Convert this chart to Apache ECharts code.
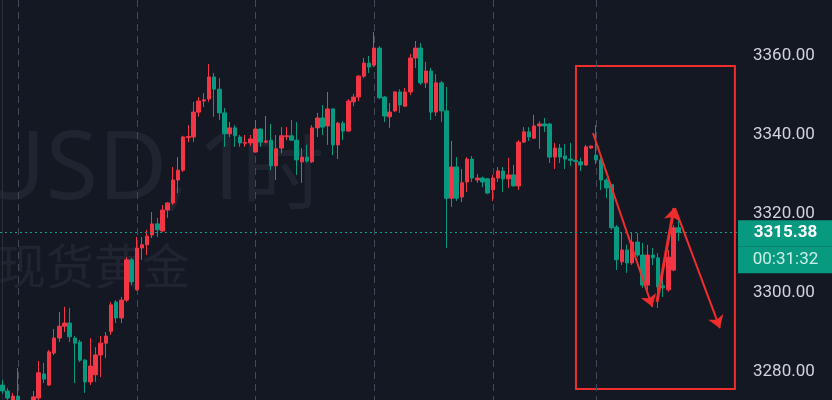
<!DOCTYPE html>
<html>
<head>
<meta charset="utf-8">
<script src="https://cdn.jsdelivr.net/npm/echarts@6.0.0/dist/echarts.min.js"></script>
<style>
html,body{margin:0;padding:0;background:#141823;overflow:hidden}
#chart{width:832px;height:400px}
</style>
</head>
<body>
<div id="chart"></div>
<script>
// ---- data (XAUUSD 1H candles) ----
const opens = [3276.7,3275.2,3271.5,3273.9,3271.0,3268.0,3271.0,3273.4,3279.5,3276.7,
3284.8,3288.6,3291.6,3292.4,3288.6,3287.6,3283.0,3277.5,3279.3,3284.3,
3287.3,3290.3,3297.7,3293.7,3298.2,3308.4,3300.8,3311.4,3312.2,3314.7,
3317.5,3315.7,3321.0,3322.8,3328.6,3331.1,3339.3,3339.5,3345.8,3348.6,
3349.1,3354.7,3351.6,3345.6,3340.3,3341.8,3339.5,3337.9,3338.0,3335.7,
3341.5,3338.2,3338.7,3332.2,3336.7,3339.6,3339.8,3338.7,3333.2,3334.4,
3333.2,3341.8,3344.3,3342.3,3346.6,3337.5,3343.0,3341.0,3348.4,3349.6,
3354.9,3358.2,3357.7,3362.0,3349.6,3344.6,3346.1,3350.9,3347.3,3350.9,
3359.5,3362.0,3353.2,3356.2,3345.8,3353.2,3346.1,3324.0,3331.9,3324.3,
3328.1,3333.9,3328.6,3329.1,3328.9,3326.1,3329.1,3330.9,3328.9,3329.9,
3327.1,3338.2,3340.8,3339.2,3342.3,3342.8,3342.8,3334.4,3336.7,3334.7,
3333.9,3333.6,3333.2,3332.4,3336.7,3334.9,3333.7,3328.6,3327.4,3316.7,
3307.9,3310.9,3307.6,3312.9,3309.6,3302.0,3309.6,3308.9,3301.8,3300.8,
3305.8,3316.5];
const closes = [3275.2,3273.4,3273.9,3271.0,3268.0,3271.0,3273.7,3279.8,3278.2,3285.1,
3288.6,3291.6,3292.4,3288.9,3287.3,3283.0,3277.5,3281.5,3284.3,3287.3,
3289.1,3297.0,3293.7,3298.2,3308.4,3302.8,3311.4,3312.2,3314.4,3317.5,
3316.0,3321.0,3322.8,3328.6,3331.1,3339.5,3339.6,3345.8,3348.6,3348.9,
3354.7,3351.6,3345.6,3340.3,3341.8,3339.8,3338.0,3338.1,3339.0,3341.5,
3338.2,3338.5,3332.2,3336.5,3339.8,3339.8,3338.7,3333.7,3334.4,3333.4,
3341.8,3344.3,3342.0,3346.6,3337.5,3343.0,3341.0,3348.6,3349.6,3354.9,
3358.2,3357.2,3362.0,3349.4,3344.8,3345.8,3350.9,3347.6,3350.9,3359.5,
3362.0,3353.2,3356.2,3345.8,3353.2,3346.1,3324.0,3331.9,3324.0,3327.9,
3333.9,3329.1,3329.1,3328.1,3325.3,3329.1,3330.9,3328.9,3329.9,3327.1,
3338.2,3340.8,3339.5,3342.3,3342.8,3342.3,3334.4,3336.7,3334.4,3333.9,
3333.6,3333.3,3332.4,3337.0,3337.2,3333.7,3328.6,3326.6,3316.5,3308.4,
3310.9,3307.6,3312.9,3309.6,3302.0,3309.6,3308.9,3301.5,3301.3,3309.1,
3316.5,3315.38];
const lows = [3274.5,3271.0,3270.5,3268.0,3266.0,3266.0,3270.0,3272.5,3277.2,3276.5,
3284.3,3287.6,3290.1,3287.6,3277.2,3282.5,3274.7,3276.7,3277.5,3278.7,
3283.5,3289.4,3292.4,3292.4,3297.7,3302.0,3300.6,3308.4,3309.6,3313.9,
3314.2,3315.5,3319.0,3322.3,3325.3,3330.6,3338.2,3338.2,3344.6,3347.1,
3348.4,3344.6,3343.8,3337.0,3339.5,3337.0,3337.0,3337.0,3337.2,3335.5,
3337.0,3337.9,3331.1,3328.6,3335.4,3338.7,3338.5,3329.9,3327.9,3333.0,
3332.9,3339.5,3340.0,3337.5,3334.9,3333.9,3338.7,3340.8,3347.3,3348.6,
3354.4,3355.7,3357.2,3349.1,3343.3,3341.8,3345.8,3345.6,3347.1,3350.1,
3357.0,3352.7,3351.9,3343.8,3344.8,3343.3,3311.4,3321.8,3323.3,3323.0,
3325.6,3328.1,3327.9,3326.8,3325.0,3323.3,3328.1,3325.6,3326.6,3327.0,
3326.1,3338.0,3338.5,3339.0,3336.5,3340.8,3332.9,3331.4,3332.9,3331.4,
3332.2,3332.5,3330.9,3332.2,3336.5,3332.6,3326.1,3324.0,3316.0,3305.8,
3307.1,3305.1,3307.1,3309.1,3301.3,3300.8,3307.1,3296.2,3299.0,3300.3,
3305.5,3313.2];
const highs = [3278.0,3275.9,3274.7,3281.0,3272.0,3272.0,3275.2,3282.8,3282.3,3285.6,
3290.9,3295.2,3296.5,3296.2,3289.1,3288.1,3283.3,3288.6,3286.3,3289.1,
3290.1,3297.7,3298.2,3299.0,3309.1,3308.9,3314.2,3314.2,3316.0,3320.5,
3319.0,3322.3,3323.0,3331.9,3334.4,3339.8,3342.5,3348.4,3349.6,3350.6,
3358.0,3355.7,3354.4,3346.8,3343.3,3342.5,3340.0,3340.0,3340.0,3343.8,
3341.7,3344.8,3342.8,3340.0,3342.0,3342.0,3343.8,3343.3,3336.7,3337.5,
3342.5,3345.6,3347.6,3350.9,3346.8,3343.3,3343.5,3349.1,3350.4,3355.2,
3359.5,3360.0,3366.1,3362.5,3349.9,3348.1,3351.1,3351.6,3351.9,3360.5,
3363.8,3363.3,3358.5,3357.0,3355.4,3353.7,3352.2,3338.5,3334.4,3331.4,
3334.4,3334.7,3330.1,3329.5,3329.1,3329.9,3331.9,3331.9,3334.2,3332.4,
3338.7,3342.0,3342.0,3345.1,3343.5,3344.3,3343.0,3338.0,3337.7,3337.7,
3338.0,3334.5,3334.2,3337.5,3337.3,3342.5,3334.4,3329.1,3327.5,3317.2,
3315.2,3312.2,3315.2,3315.2,3312.7,3312.2,3311.4,3310.1,3304.6,3310.9,
3317.2,3319.0];
const emptySlots = 11;                       // empty hourly slots right of the last bar
const dayStartIdx = [3, 26, 49, 72, 95, 115]; // session separators (candle index)
const yMin = 3260, yMax = 3380, yStep = 20;
const lastPrice = 3315.38;
const countdown = '00:31:32';
const watermarkSymbol = ['XAUUSD,', '1', '时'];
const watermarkName = '现货黄金';
// hand-drawn annotations, in (candle index, price)
const boxCorners = [[111.1, 3357.5], [141.9, 3275.7]];
const arrows = [
  [[114.4, 3340.5], [125.9, 3296.5], 2],
  [[126.8, 3297.7], [130.1, 3321.5], 3],
  [[130.3, 3321.5], [139.0, 3291.1], 2]
];

const UP = '#f23645', DOWN = '#089981', MARK = '#ef2d2d';
const WM = 'rgba(200,210,235,0.065)';
const nCat = opens.length + emptySlots;
const categories = Array.from({length: nCat}, (_, i) => 'h' + i);
const candles = opens.map((o, i) => [o, closes[i], lows[i], highs[i]]);

const wmText = (text, x, y, size, family, align) => ({
  type: 'text', x: x, y: y, z: -10, silent: true,
  style: {text: text, fill: WM, fontSize: size, fontFamily: family, align: align, verticalAlign: 'middle'}
});

const chart = echarts.init(document.getElementById('chart'), null, {renderer: 'canvas'});
chart.setOption({
  backgroundColor: '#141823',
  animation: false,
  grid: {left: 0, right: 94, top: -23, bottom: -51, containLabel: false, outerBoundsMode: 'none'},
  graphic: [
    wmText(watermarkSymbol[0], 189, 172, 95, '"Noto Sans", sans-serif', 'right'),
    wmText(watermarkSymbol[1], 197, 172, 95, '"Noto Sans", sans-serif', 'left'),
    wmText(watermarkSymbol[2], 242, 172, 82, '"Noto Sans CJK SC", sans-serif', 'left'),
    wmText(watermarkName, -2, 266, 48, '"Noto Sans CJK SC", sans-serif', 'left')
  ],
  xAxis: [
    {type: 'category', data: categories, boundaryGap: true,
     axisLine: {show: false}, axisTick: {show: false}, axisLabel: {show: false}, splitLine: {show: false}},
    {type: 'value', min: -0.5, max: nCat - 0.5, show: false, splitLine: {show: false}}
  ],
  yAxis: {
    type: 'value', position: 'right', min: yMin, max: yMax, interval: yStep,
    axisLine: {show: true, lineStyle: {color: '#2a2e39', width: 1}},
    axisTick: {show: false}, splitLine: {show: false},
    axisLabel: {color: '#d1d4dc', fontSize: 17, fontFamily: 'Roboto', margin: 15,
                formatter: v => v.toFixed(2)}
  },
  series: [
    {
      type: 'line', xAxisIndex: 1, data: [], silent: true,
      markLine: {
        silent: true, symbol: 'none', z: 1, animation: false,
        lineStyle: {color: '#434856', type: [7, 5], width: 1},
        label: {show: false},
        data: dayStartIdx.map(i => ({xAxis: i}))
      }
    },
    {
      type: 'candlestick', xAxisIndex: 0, data: candles, barWidth: 4,
      itemStyle: {color: UP, color0: DOWN, borderColor: UP, borderColor0: DOWN, borderWidth: 1},
      markLine: {
        silent: true, symbol: 'none', animation: false,
        data: [{
          yAxis: lastPrice,
          lineStyle: {color: '#16a08b', type: [2, 3], width: 1},
          label: {
            show: true, position: 'end', distance: 0,
            padding: [29, 0, 0, 0],
            formatter: () => '{a|' + lastPrice.toFixed(2) + '}\n{b|' + countdown + '}',
            rich: {
              a: {width: 95, height: 26, lineHeight: 26, align: 'center', backgroundColor: DOWN,
                  color: '#ffffff', fontSize: 17, fontWeight: 'bold', fontFamily: 'Roboto'},
              b: {width: 95, height: 27, lineHeight: 27, align: 'center', backgroundColor: DOWN,
                  color: '#cdeee6', fontSize: 17, fontFamily: 'Roboto'}
            }
          }
        }]
      }
    },
    {
      type: 'line', xAxisIndex: 1, data: [], silent: true,
      markArea: {
        silent: true,
        itemStyle: {color: 'rgba(0,0,0,0)', borderColor: MARK, borderWidth: 2},
        label: {show: false},
        data: [[{coord: boxCorners[0]}, {coord: boxCorners[1]}]]
      },
      markLine: {
        silent: true, z: 10, animation: false,
        symbol: ['none', 'arrow'], symbolSize: 12,
        label: {show: false},
        data: arrows.map(a => [
          {coord: a[0], lineStyle: {color: MARK, width: a[2], type: 'solid'}},
          {coord: a[1]}
        ])
      }
    }
  ]
});
</script>
</body>
</html>
